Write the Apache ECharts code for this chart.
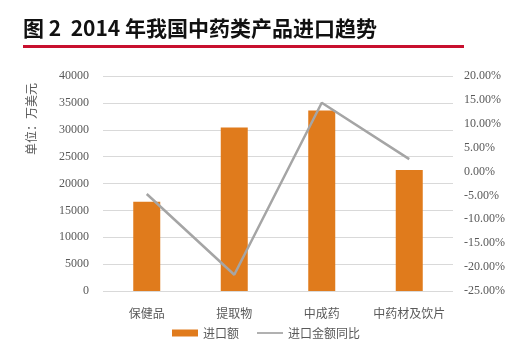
<!DOCTYPE html>
<html><head><meta charset="utf-8">
<script src="https://cdn.jsdelivr.net/npm/echarts@6/dist/echarts.min.js"></script>
<style>html,body{margin:0;padding:0;background:#fff}#c{width:532px;height:364px}</style>
</head><body><div id="c"></div>
<script>
var categories = ['保健品', '提取物', '中成药', '中药材及饮片'];
var importValues = [16600, 30400, 33600, 22500];
var yoyGrowth = [-4.7, -21.6, 14.4, 2.6];
var leftTicks = {min: 0, max: 40000, interval: 5000};
var rightTicks = {min: -25, max: 20, interval: 5};

var chart = echarts.init(document.getElementById('c'));
chart.setOption({
  animation: false,
  title: {
    text: '图 2\u00a0\u00a02014 年我国中药类产品进口趋势',
    left: 18, top: 13,
    textStyle: {fontSize: 21, fontWeight: 'bold', color: '#111', fontFamily: 'Noto Sans CJK SC'}
  },
  graphic: [{
    type: 'rect', shape: {x: 23, y: 45, width: 441, height: 3},
    style: {fill: '#c8102e'}
  }, {
    type: 'text', x: 31, y: 119, rotation: Math.PI / 2,
    style: {text: '单位：万美元', fontSize: 12, fill: '#595959', fontFamily: 'Noto Sans CJK SC',
      textAlign: 'center', textVerticalAlign: 'middle'}
  }],
  grid: {left: 103, right: 79, top: 76, bottom: 73},
  legend: {
    bottom: 20, left: 'center', itemGap: 18,
    textStyle: {fontSize: 12, color: '#595959', fontFamily: 'Noto Sans CJK SC'},
    data: [
      {name: '进口额', icon: 'rect', itemStyle: {color: '#e07b1c'}},
      {name: '进口金额同比', icon: 'path://M0,0 L30,0 L30,2 L0,2 Z'}
    ],
    itemWidth: 26, itemHeight: 7
  },
  xAxis: {
    type: 'category', data: categories,
    axisLine: {show: false}, axisTick: {show: false},
    axisLabel: {fontSize: 12, color: '#595959', margin: 16, interval: 0, fontFamily: 'Noto Sans CJK SC'}
  },
  yAxis: [{
    type: 'value', min: leftTicks.min, max: leftTicks.max, interval: leftTicks.interval,
    axisLine: {show: false}, axisTick: {show: false},
    axisLabel: {fontSize: 12, color: '#595959', margin: 14, fontFamily: 'Liberation Serif',
      formatter: function (v) { return String(v); }},
    splitLine: {lineStyle: {color: '#d9d9d9', width: 1}}
  }, {
    type: 'value', min: rightTicks.min, max: rightTicks.max, interval: rightTicks.interval,
    axisLine: {show: false}, axisTick: {show: false},
    axisLabel: {fontSize: 12, color: '#595959', margin: 11, fontFamily: 'Liberation Serif',
      formatter: function (v) { return v.toFixed(2) + '%'; }},
    splitLine: {show: false}
  }],
  series: [{
    name: '进口额', type: 'bar', data: importValues, barWidth: 27,
    itemStyle: {color: '#e07b1c'}
  }, {
    name: '进口金额同比', type: 'line', yAxisIndex: 1, data: yoyGrowth,
    symbol: 'none', lineStyle: {color: '#a5a5a5', width: 2.5}, itemStyle: {color: '#a5a5a5'}
  }]
});
</script></body></html>
